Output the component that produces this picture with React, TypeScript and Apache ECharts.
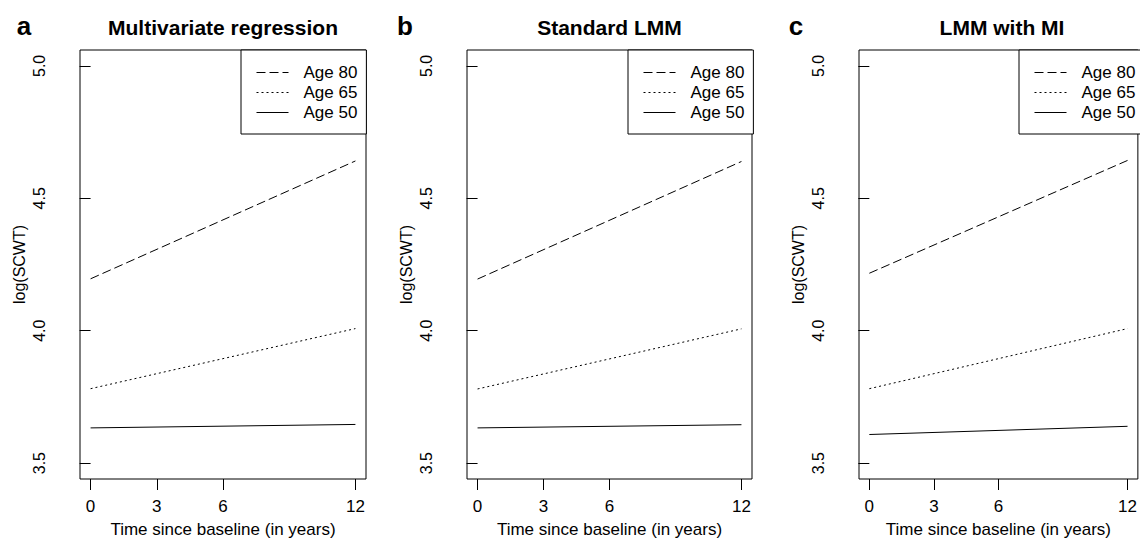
import React, { useEffect, useRef } from "react";
import * as echarts from "echarts";

// ---- Data ----
const timePoints = [0, 12];
const xTicks = [0, 3, 6, 12];
const yTicks = [3.5, 4.0, 4.5, 5.0];
const panelLetters = ["a", "b", "c"];
const panelTitles = ["Multivariate regression", "Standard LMM", "LMM with MI"];
const seriesNames = ["Age 80", "Age 65", "Age 50"];

// values at time 0 and time 12 for each panel
const age80 = [
  [4.196, 4.641],
  [4.195, 4.639],
  [4.217, 4.643],
];
const age65 = [
  [3.781, 4.008],
  [3.780, 4.007],
  [3.781, 4.008],
];
const age50 = [
  [3.633, 3.646],
  [3.633, 3.645],
  [3.608, 3.639],
];

const xTitle = "Time since baseline (in years)";
const yTitle = "log(SCWT)";

const FONT = "'Liberation Sans', Arial, Helvetica, sans-serif";

// ---- Layout ----
const grids = [
  { left: 80, top: 50, width: 286, height: 429 },
  { left: 467, top: 50, width: 285, height: 429 },
  { left: 859, top: 50, width: 286, height: 429 },
];
const legendLefts = [241, 628, 1019];
const letterCenters = [24, 405, 796];

const lineTypes: any[] = [[9, 4], [2, 3], "solid"];
const allValues = [age80, age65, age50];

export default function App() {
  const ref = useRef<HTMLDivElement>(null);
  useEffect(() => {
    document.body.style.margin = "0";
    if (!ref.current) return;
    const chart = echarts.init(ref.current, null, { renderer: "svg" });

    const series: any[] = [];
    grids.forEach((_, p) => {
      seriesNames.forEach((name, s) => {
        series.push({
          type: "line",
          name,
          xAxisIndex: p,
          yAxisIndex: p,
          symbol: "none",
          silent: true,
          data: timePoints.map((t, i) => [t, allValues[s][p][i]]),
          lineStyle: { color: "#000", width: 1, type: lineTypes[s] },
          itemStyle: { color: "#000" },
        });
      });
    });

    const option: any = {
      animation: false,
      backgroundColor: "#fff",
      textStyle: { fontFamily: FONT },
      title: [
        ...panelTitles.map((t, p) => ({
          text: t,
          left: grids[p].left + grids[p].width / 2,
          textAlign: "center",
          top: 17,
          padding: 0,
          textStyle: { fontSize: 21, fontWeight: "bold", color: "#000", fontFamily: FONT },
        })),
        ...panelLetters.map((t, p) => ({
          text: t,
          left: letterCenters[p],
          textAlign: "center",
          top: 13,
          padding: 0,
          textStyle: { fontSize: 26, fontWeight: "bold", color: "#000", fontFamily: FONT },
        })),
      ],
      legend: grids.map((g, p) => ({
        data: seriesNames,
        orient: "vertical",
        left: legendLefts[p],
        top: 50,
        width: g.left + g.width - legendLefts[p],
        itemWidth: 32,
        itemHeight: 14,
        itemGap: 3,
        padding: [14, 9, 13, 15],
        borderColor: "#000",
        borderWidth: 1,
        borderRadius: 0,
        backgroundColor: "#fff",
        selectedMode: false,
        itemStyle: { opacity: 0, borderWidth: 0 },
        lineStyle: { width: 1, color: "#000" },
        textStyle: { fontSize: 17, color: "#000", fontFamily: FONT, padding: [0, 0, 0, 10] },
      })),
      grid: grids.map((g) => ({
        ...g,
        show: true,
        borderColor: "#000",
        borderWidth: 1,
        backgroundColor: "transparent",
        containLabel: false,
      })),
      xAxis: grids.map((_, p) => ({
        type: "value",
        gridIndex: p,
        min: -0.48,
        max: 12.48,
        name: xTitle,
        nameLocation: "middle",
        nameGap: 42,
        nameTextStyle: { fontSize: 17, color: "#000", fontFamily: FONT },
        axisLine: { show: false },
        splitLine: { show: false },
        axisTick: {
          show: true,
          inside: false,
          length: 11,
          customValues: xTicks,
          lineStyle: { color: "#000", width: 1 },
        },
        axisLabel: {
          show: true,
          customValues: xTicks,
          margin: 19,
          fontSize: 17,
          color: "#000",
          fontFamily: FONT,
        },
      })),
      yAxis: grids.map((_, p) => ({
        type: "value",
        gridIndex: p,
        min: 3.44,
        max: 5.06,
        name: yTitle,
        nameLocation: "middle",
        nameRotate: 90,
        nameGap: 53,
        nameTextStyle: { fontSize: 16, color: "#000", fontFamily: FONT },
        axisLine: { show: false },
        splitLine: { show: false },
        axisTick: {
          show: true,
          inside: false,
          length: 11,
          customValues: yTicks,
          lineStyle: { color: "#000", width: 1 },
        },
        axisLabel: {
          show: true,
          customValues: yTicks,
          rotate: 90,
          margin: 33,
          fontSize: 16,
          color: "#000",
          fontFamily: FONT,
          formatter: (v: number) => v.toFixed(1),
        },
      })),
      series,
    };

    chart.setOption(option);
    return () => chart.dispose();
  }, []);

  return <div ref={ref} style={{ width: 1140, height: 545 }} />;
}
